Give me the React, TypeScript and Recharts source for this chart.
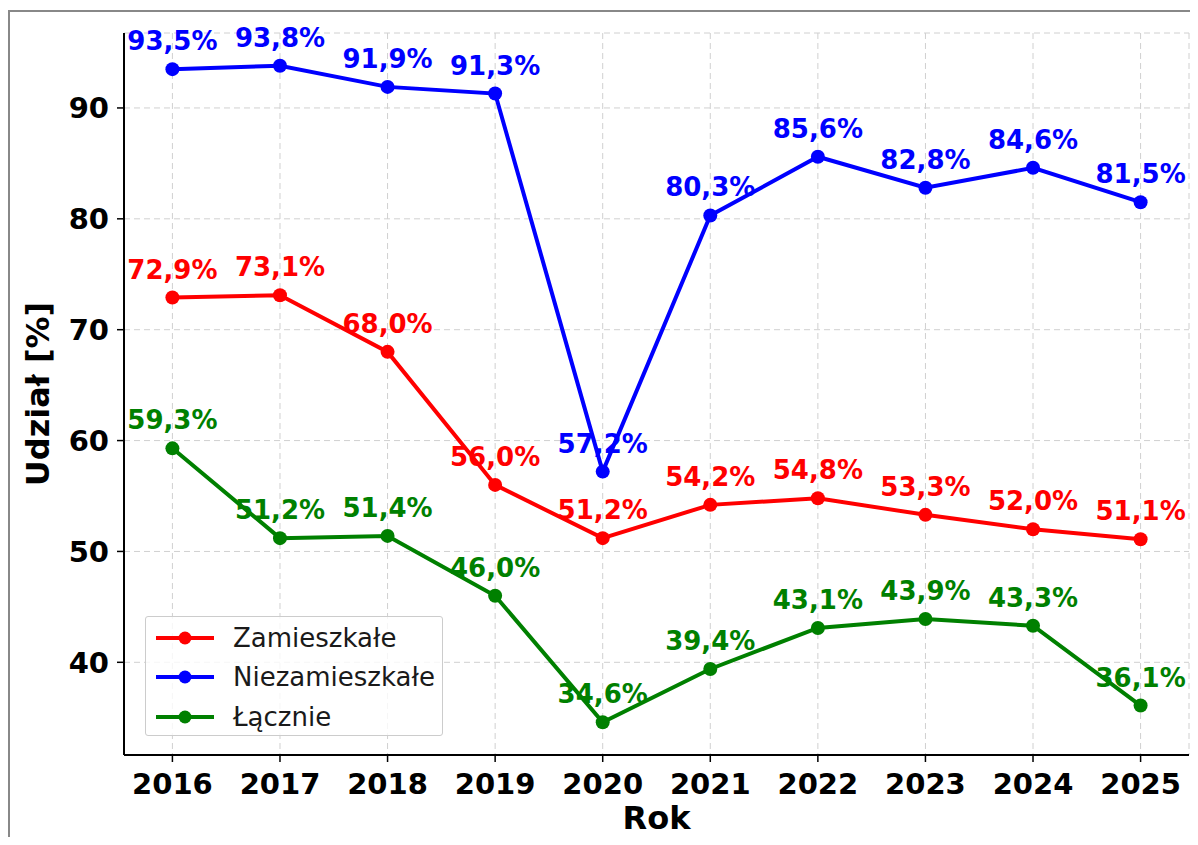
import {
  CartesianGrid,
  LabelList,
  Line,
  LineChart,
  XAxis,
  YAxis,
} from 'recharts'

const years = [2016, 2017, 2018, 2019, 2020, 2021, 2022, 2023, 2024, 2025]
const zamieszkale = [72.9, 73.1, 68.0, 56.0, 51.2, 54.2, 54.8, 53.3, 52.0, 51.1]
const niezamieszkale = [93.5, 93.8, 91.9, 91.3, 57.2, 80.3, 85.6, 82.8, 84.6, 81.5]
const lacznie = [59.3, 51.2, 51.4, 46.0, 34.6, 39.4, 43.1, 43.9, 43.3, 36.1]
const yTicks = [40, 50, 60, 70, 80, 90]

const FONT = '"DejaVu Sans", sans-serif'

const SERIES = [
  { key: 'zam', name: 'Zamieszkałe', color: '#ff0000' },
  { key: 'niezam', name: 'Niezamieszkałe', color: '#0000ff' },
  { key: 'lacz', name: 'Łącznie', color: '#008000' },
]

const data = years.map((year, i) => ({
  year,
  zam: zamieszkale[i],
  niezam: niezamieszkale[i],
  lacz: lacznie[i],
}))

function formatPct(v: number) {
  return v.toFixed(1).replace('.', ',') + '%'
}

/** value label above each point, matplotlib annotate style */
function PointLabel(props: any) {
  const { x, y, value, labelColor } = props
  if (x == null || y == null) return null
  return (
    <text
      x={x}
      y={y - 19}
      textAnchor="middle"
      fill={labelColor}
      fontFamily={FONT}
      fontWeight="bold"
      fontSize={26}
    >
      {formatPct(value)}
    </text>
  )
}

function YLabel(props: any) {
  const { viewBox } = props
  const cx = viewBox.x + 30
  const cy = viewBox.y + viewBox.height / 2
  return (
    <text
      x={cx}
      y={cy}
      transform={`rotate(-90, ${cx}, ${cy})`}
      textAnchor="middle"
      dominantBaseline="central"
      fontFamily={FONT}
      fontWeight="bold"
      fontSize={32}
      fill="#000"
    >
      Udział [%]
    </text>
  )
}

function XLabel(props: any) {
  const { viewBox } = props
  return (
    <text
      x={viewBox.x + viewBox.width / 2}
      y={viewBox.y + 74}
      textAnchor="middle"
      fontFamily={FONT}
      fontWeight="bold"
      fontSize={32}
      fill="#000"
    >
      Rok
    </text>
  )
}

// legend sits inside the plot, lower left, like matplotlib loc="lower left"
function LegendBox() {
  return (
    <div
      style={{
        position: 'absolute',
        left: 137,
        top: 608,
        width: 296,
        height: 117,
        border: '1px solid #cccccc',
        borderRadius: 3,
        background: 'rgba(255,255,255,0.8)',
        paddingTop: 1,
      }}
    >
      {SERIES.map((s) => (
        <div
          key={s.key}
          style={{ display: 'flex', alignItems: 'center', height: 39.5 }}
        >
          <svg width={87} height={20} style={{ flex: 'none' }}>
            <line x1={10} x2={68} y1={10} y2={10} stroke={s.color} strokeWidth={4} />
            <circle cx={39} cy={10} r={6.5} fill={s.color} />
          </svg>
          <span
            style={{
              fontFamily: FONT,
              fontSize: 26,
              color: '#1a1a1a',
              lineHeight: '26px',
            }}
          >
            {s.name}
          </span>
        </div>
      ))}
    </div>
  )
}

export default function App() {
  return (
    <div style={{ position: 'relative', width: 1190, height: 829 }}>
      <div
        style={{
          position: 'absolute',
          left: 0,
          top: 2,
          width: 1190,
          height: 827,
          borderLeft: '2px solid #888888',
          borderTop: '2px solid #888888',
          boxSizing: 'border-box',
        }}
      />
      <div style={{ position: 'absolute', left: 0, top: 0 }}>
        <LineChart
          width={1190}
          height={829}
          data={data}
          margin={{ top: 25, right: 9, bottom: 3, left: 0 }}
        >
          <CartesianGrid strokeDasharray="6 4" stroke="#d0d0d0" strokeWidth={1} />
          <XAxis
            dataKey="year"
            type="number"
            domain={[2015.55, 2025.45]}
            ticks={years}
            allowDataOverflow
            height={79}
            axisLine={{ stroke: '#000', strokeWidth: 2 }}
            tickLine={{ stroke: '#000', strokeWidth: 1.5 }}
            tickSize={7}
            tickMargin={11}
            tick={{ fill: '#000', fontSize: 29, fontWeight: 'bold', fontFamily: FONT }}
            label={<XLabel />}
          />
          <YAxis
            type="number"
            domain={[31.64, 96.76]}
            ticks={yTicks}
            allowDataOverflow
            width={116}
            axisLine={{ stroke: '#000', strokeWidth: 2 }}
            tickLine={{ stroke: '#000', strokeWidth: 1.5 }}
            tickSize={7}
            tickMargin={8}
            tick={{ fill: '#000', fontSize: 29, fontWeight: 'bold', fontFamily: FONT }}
            label={<YLabel />}
          />
          {SERIES.map((s) => (
            <Line
              key={s.key}
              type="linear"
              dataKey={s.key}
              name={s.name}
              stroke={s.color}
              strokeWidth={4}
              dot={{ r: 7, fill: s.color, stroke: s.color, strokeWidth: 0 }}
              activeDot={false}
              isAnimationActive={false}
            >
              <LabelList
                dataKey={s.key}
                content={<PointLabel labelColor={s.color} />}
              />
            </Line>
          ))}
        </LineChart>
      </div>
      <LegendBox />
    </div>
  )
}
